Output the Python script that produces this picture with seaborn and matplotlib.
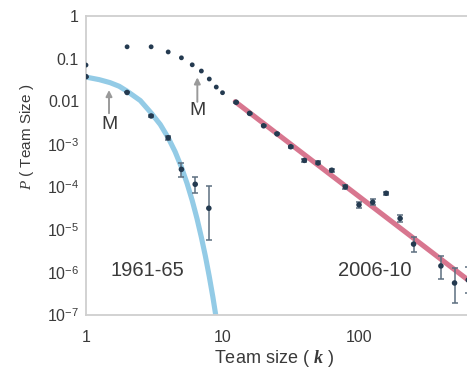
import matplotlib
matplotlib.use("Agg")
import matplotlib.pyplot as plt
import numpy as np
import pandas as pd
import seaborn as sns

# ---------------- data ----------------
# 1961-65 team sizes
early_k = [1, 2, 3, 4, 5, 6.31, 7.94]
early_p = [0.038, 0.0162, 0.00457, 0.00141, 2.57e-4, 1.15e-4, 3.16e-5]
early_lo = [0.038, 0.0162, 0.00433, 0.00127, 1.72e-4, 7.2e-5, 5.6e-6]
early_hi = [0.038, 0.0162, 0.00482, 0.00158, 3.67e-4, 1.70e-4, 1.04e-4]

# Poisson-like fit to 1961-65
fit_early_k = [1, 1.25, 1.5, 1.75, 2, 2.5, 3, 3.5, 4, 4.5, 5, 5.5, 6, 6.5, 7,
               7.5, 8, 8.5, 9]
fit_early_logp = [-1.43, -1.49, -1.56, -1.645, -1.76, -1.98, -2.27, -2.54,
                  -2.85, -3.18, -3.54, -3.92, -4.32, -4.74, -5.18, -5.63,
                  -6.10, -6.58, -7.08]

# 2006-10 small team sizes (dotted points)
late_small_k = [1, 2, 3, 4, 5, 6, 7, 8, 9, 10]
late_small_p = [0.071, 0.19, 0.19, 0.144, 0.105, 0.072, 0.0515, 0.0335,
                0.0217, 0.016]

# 2006-10 tail (log-binned)
late_k = [12.6, 15.8, 20, 25.1, 31.6, 39.8, 50.1, 63.1, 79.4, 100, 126, 158,
          200, 251, 398, 501, 631]
late_p = [0.00955, 0.00525, 0.00269, 0.00174, 8.7e-4, 4.17e-4, 3.63e-4,
          2.45e-4, 1.0e-4, 3.8e-5, 4.37e-5, 7.08e-5, 1.82e-5, 4.57e-6,
          1.41e-6, 5.62e-7, 6.6e-7]
late_lo = [0.0093, 0.00511, 0.00262, 0.00169, 8.25e-4, 3.85e-4, 3.35e-4,
           2.26e-4, 9.0e-5, 3.24e-5, 3.72e-5, 6.53e-5, 1.47e-5, 2.92e-6,
           7.15e-7, 1.96e-7, 3.3e-7]
late_hi = [0.00981, 0.00539, 0.00276, 0.00179, 9.17e-4, 4.52e-4, 3.93e-4,
           2.65e-4, 1.11e-4, 4.46e-5, 5.13e-5, 7.67e-5, 2.21e-5, 6.58e-6,
           2.42e-6, 1.26e-6, 1.33e-6]

# power-law fit to 2006-10 tail (end points of the red line)
fit_late_k = [12.4, 618]
fit_late_p = [0.00984, 6.9e-7]

x_ticks = [1, 10, 100]
x_tick_labels = ["1", "10", "100"]
y_ticks = [1, 0.1, 0.01, 1e-3, 1e-4, 1e-5, 1e-6, 1e-7]
y_tick_labels = ["1", "0.1", "0.01", r"$10^{-3}$", r"$10^{-4}$", r"$10^{-5}$",
                 r"$10^{-6}$", r"$10^{-7}$"]

# ---------------- style ----------------
sns.set_style("white")
plt.rcParams["font.family"] = ["Liberation Sans", "DejaVu Sans"]
plt.rcParams["mathtext.fontset"] = "custom"
plt.rcParams["mathtext.rm"] = "Liberation Sans"
plt.rcParams["mathtext.it"] = "Liberation Serif:italic"
plt.rcParams["mathtext.bf"] = "Liberation Serif:bold"
plt.rcParams["mathtext.bfit"] = "Liberation Serif:italic:bold"

navy = "#243a50"
blue = "#93cbe6"
red = "#d8768f"
txt = "#3a3a3a"
spine_c = "#cfcfcf"

fig = plt.figure(figsize=(4.67, 3.68), dpi=100)
ax = fig.add_axes([86 / 467, 1 - 315 / 368, 381 / 467, 299 / 368])
ax.set_xscale("log")
ax.set_yscale("log")

# fit curves
df_fe = pd.DataFrame({"k": fit_early_k, "p": 10 ** np.array(fit_early_logp)})
sns.lineplot(data=df_fe, x="k", y="p", ax=ax, color=blue, lw=3.7,
             sort=False, estimator=None, zorder=2)
df_fl = pd.DataFrame({"k": fit_late_k, "p": fit_late_p})
sns.lineplot(data=df_fl, x="k", y="p", ax=ax, color=red, lw=3.7,
             sort=False, estimator=None, zorder=2)

# error bars
ep = np.array(early_p)
ax.errorbar(early_k, ep, yerr=[ep - np.array(early_lo), np.array(early_hi) - ep],
            fmt="none", ecolor="#5d6f80", elinewidth=1.1, capsize=2.5,
            capthick=1.1, zorder=3)
lp = np.array(late_p)
ax.errorbar(late_k, lp, yerr=[lp - np.array(late_lo), np.array(late_hi) - lp],
            fmt="none", ecolor="#5d6f80", elinewidth=1.1, capsize=2.5,
            capthick=1.1, zorder=3)

# points
sns.scatterplot(x=early_k, y=early_p, ax=ax, color=navy, s=16,
                edgecolor="none", zorder=5)
sns.scatterplot(x=late_small_k, y=late_small_p, ax=ax, color=navy, s=12,
                edgecolor="none", zorder=5)
sns.scatterplot(x=late_k, y=late_p, ax=ax, color=navy, s=16,
                edgecolor="none", zorder=5)

ax.set_xlim(1, 618)
ax.set_ylim(1e-7, 1)

# axes styling
for side in ["top", "left", "bottom"]:
    ax.spines[side].set_visible(True)
    ax.spines[side].set_color(spine_c)
    ax.spines[side].set_linewidth(1.3)
ax.spines["right"].set_visible(False)

ax.set_xticks(x_ticks)
ax.set_xticklabels(x_tick_labels)
ax.set_yticks(y_ticks)
ax.set_yticklabels(y_tick_labels)
ax.xaxis.set_minor_locator(matplotlib.ticker.LogLocator(base=10, subs=np.arange(2, 10)))
ax.xaxis.set_minor_formatter(matplotlib.ticker.NullFormatter())
ax.yaxis.set_minor_locator(matplotlib.ticker.NullLocator())
ax.tick_params(axis="x", which="major", direction="in", length=3, width=1,
               color=spine_c, labelsize=11.5, labelcolor=txt, pad=11)
ax.tick_params(axis="x", which="minor", direction="in", length=3, width=1,
               color=spine_c, top=False)
ax.tick_params(axis="y", which="major", direction="in", length=4, width=1,
               color=spine_c, labelsize=11.5, labelcolor=txt, pad=5)
ax.tick_params(top=False, right=False)

ax.set_xlabel(r"Team size ( $\mathbfit{k}$ )", fontsize=13, color=txt)
ax.set_ylabel(r"$P$ ( Team Size )", fontsize=11, color=txt)
ax.xaxis.set_label_coords(0.493, -0.112)
ax.yaxis.set_label_coords(-0.13, 0.595)

# annotations
arrow_kw = dict(arrowstyle="-|>", color="#9a9a9a", lw=1.4, mutation_scale=9,
                shrinkA=0, shrinkB=0)
ax.annotate("", xy=(1.474, 0.0185), xytext=(1.474, 0.0053), arrowprops=arrow_kw)
ax.text(1.474, 10 ** -2.53, "M", ha="center", va="center", fontsize=14,
        color=txt)
ax.annotate("", xy=(6.54, 0.0366), xytext=(6.54, 0.0098), arrowprops=arrow_kw)
ax.text(6.54, 10 ** -2.213, "M", ha="center", va="center", fontsize=14,
        color=txt)

ax.text(2.80, 10 ** -5.948, "1961-65", ha="center", va="center", fontsize=14.5,
        color=txt)
ax.text(131, 10 ** -5.948, "2006-10", ha="center", va="center", fontsize=14.5,
        color=txt)

fig.savefig("out.png", dpi=100)
